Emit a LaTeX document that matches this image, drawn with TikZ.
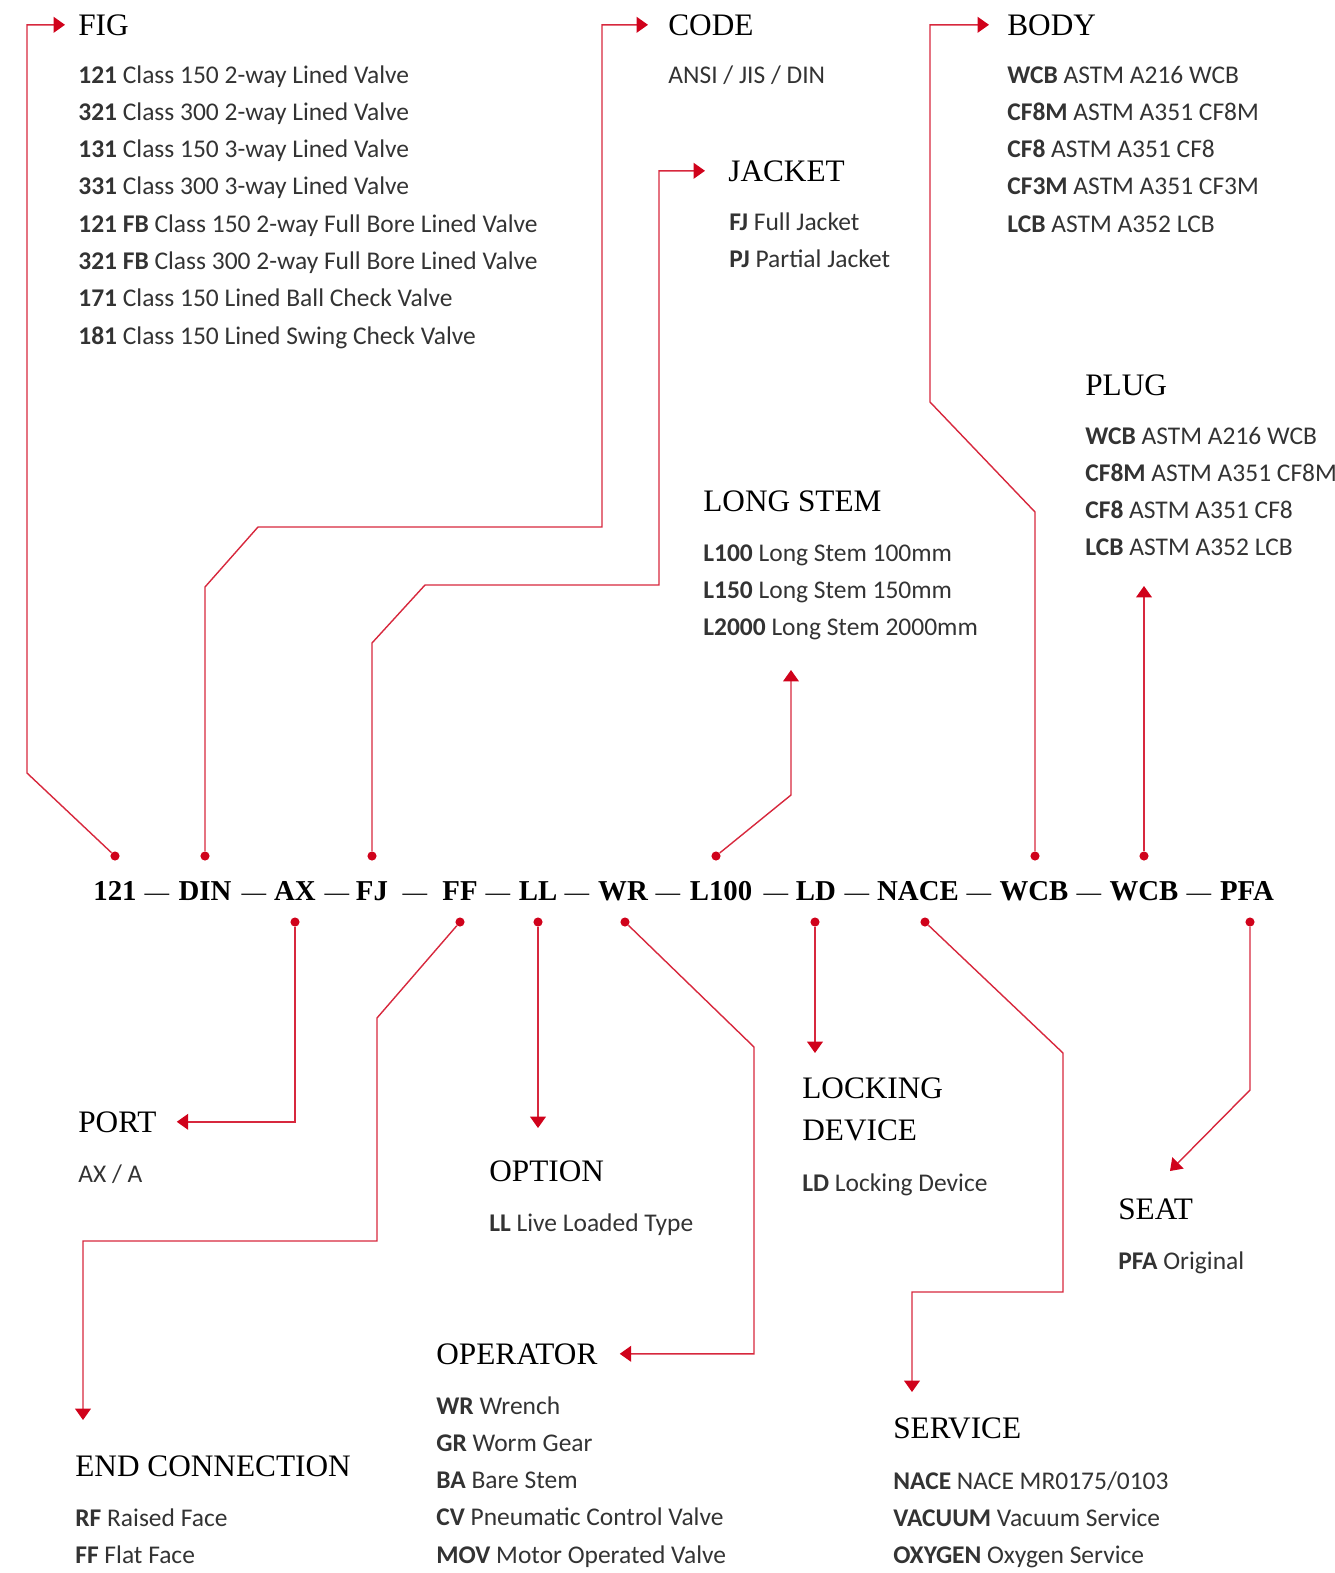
\documentclass[tikz,border=0pt]{standalone}
\usepackage{fontspec}
\usepackage{tikz}
\usetikzlibrary{arrows.meta,calc,positioning}
\newfontfamily\headfont{Liberation Serif}
\newfontfamily\bodyfont{Carlito}
\definecolor{valvered}{RGB}{208,2,27}
\definecolor{textgray}{RGB}{51,51,51}
\tikzset{
  head/.style={anchor=base west, inner sep=0pt, font=\headfont\fontsize{17.8}{23.9}\selectfont},
  entry/.style={anchor=base west, inner sep=0pt, text=textgray, font=\bodyfont\fontsize{14.5}{17}\selectfont},
  part/.style={anchor=base, inner sep=0pt, font=\headfont\bfseries\fontsize{16.4}{18}\selectfont},
  sep/.style={anchor=base, inner sep=0pt, font=\headfont\fontsize{14}{18}\selectfont},
  pin/.style={circle, fill=valvered, inner sep=0pt, minimum size=5.2pt},
  lead/.style={draw=valvered!85, line width=0.8pt, -{Triangle[length=6.5pt,width=9pt,color=valvered]}}
}

\begin{document}
\begin{tikzpicture}[x=0.02cm, y=-0.02cm]
\useasboundingbox (0,0) rectangle (1335,1573);

% ordering code
\foreach \nm/\txt/\x in {c121/121/115, cdin/DIN/205, cax/AX/295, cfj/FJ/372, cff/FF/460, cll/LL/538,
  cwr/WR/623, cl100/L100/721, cld/LD/816, cnace/NACE/918, cbody/WCB/1034, cplug/WCB/1144, cpfa/PFA/1247}
  \node[part] (\nm) at (\x,900) {\txt};
\foreach \x in {157,254,337,415,498,577,668,776,857,979,1089,1199}
  \node[sep] (sep-\x) at (\x,900) {\textemdash};

\foreach \nm/\x/\y in {p121/115/856, pdin/205/856, pax/295/922, pfj/372/856, pff/460/922, pll/538/922,
  pwr/625/922, pl100/716/856, pld/815/922, pnace/925/922, pbody/1035/856, pplug/1144/856, ppfa/1250/922}
  \node[pin] (\nm) at (\x,\y) {};

% top groups
\node[head] (fig) at (78,35) {FIG};
\foreach \abbr/\desc [count=\i from 0] in {121/Class 150 2-way Lined Valve, 321/Class 300 2-way Lined Valve,
  131/Class 150 3-way Lined Valve, 331/Class 300 3-way Lined Valve, 121 FB/Class 150 2-way Full Bore Lined Valve,
  321 FB/Class 300 2-way Full Bore Lined Valve, 171/Class 150 Lined Ball Check Valve, 181/Class 150 Lined Swing Check Valve}
  \node[entry] (fig-\i) at (78,{83+37.3*\i}) {\textbf{\abbr} \desc};

\node[head] (code) at (668,35) {CODE};
\node[entry] (code-0) at (668,83) {ANSI / JIS / DIN};

\node[head] (jacket) at (728,181) {JACKET};
\foreach \abbr/\desc [count=\i from 0] in {FJ/Full Jacket, PJ/Partial Jacket}
  \node[entry] (jacket-\i) at (729,{230+37.3*\i}) {\textbf{\abbr} \desc};

\node[head] (body) at (1007,35) {BODY};
\foreach \abbr/\desc [count=\i from 0] in {WCB/ASTM A216 WCB, CF8M/ASTM A351 CF8M, CF8/ASTM A351 CF8,
  CF3M/ASTM A351 CF3M, LCB/ASTM A352 LCB}
  \node[entry] (body-\i) at (1007,{83+37.3*\i}) {\textbf{\abbr} \desc};

\node[head] (plug) at (1085,395) {PLUG};
\foreach \abbr/\desc [count=\i from 0] in {WCB/ASTM A216 WCB, CF8M/ASTM A351 CF8M, CF8/ASTM A351 CF8, LCB/ASTM A352 LCB}
  \node[entry] (plug-\i) at (1085,{444+37.3*\i}) {\textbf{\abbr} \desc};

\node[head] (stem) at (703,511) {LONG STEM};
\foreach \abbr/\desc [count=\i from 0] in {L100/Long Stem 100mm, L150/Long Stem 150mm, L2000/Long Stem 2000mm}
  \node[entry] (stem-\i) at (703,{561+37.3*\i}) {\textbf{\abbr} \desc};

% bottom groups
\node[head] (port) at (78,1132) {PORT};
\node[entry] (port-0) at (78,1182) {AX / A};

\node[head] (option) at (489,1181) {OPTION};
\node[entry] (option-0) at (489,1231) {\textbf{LL} Live Loaded Type};

\node[head, anchor=west, align=left] (locking) at (802,1109) {LOCKING\\DEVICE};
\node[entry] (locking-0) at (802,1191) {\textbf{LD} Locking Device};

\node[head] (seat) at (1118,1219) {SEAT};
\node[entry] (seat-0) at (1118,1269) {\textbf{PFA} Original};

\node[head] (endconn) at (75,1476) {END CONNECTION};
\foreach \abbr/\desc [count=\i from 0] in {RF/Raised Face, FF/Flat Face}
  \node[entry] (endconn-\i) at (75,{1526+37.3*\i}) {\textbf{\abbr} \desc};

\node[head] (operator) at (436,1364) {OPERATOR};
\foreach \abbr/\desc [count=\i from 0] in {WR/Wrench, GR/Worm Gear, BA/Bare Stem, CV/Pneumatic Control Valve,
  MOV/Motor Operated Valve}
  \node[entry] (operator-\i) at (436,{1414+37.3*\i}) {\textbf{\abbr} \desc};

\node[head] (service) at (893,1438) {SERVICE};
\foreach \abbr/\desc [count=\i from 0] in {NACE/{NACE MR0175/0103}, VACUUM/Vacuum Service, OXYGEN/Oxygen Service}
  \node[entry] (service-\i) at (893,{1489+37.3*\i}) {\textbf{\abbr} \desc};

% arrow tips
\coordinate (stemtip) at (791,670);
\coordinate (plugtip) at (1144,586);
\coordinate (endtip) at (83,1420);
\coordinate (optiontip) at (538,1128);
\coordinate (lockingtip) at (815,1053);
\coordinate (servicetip) at (912,1392);
\coordinate (seattip) at (1170,1171);

% leaders
\draw[lead] (p121) -- (27,773) |- ($(fig.west)+(-13,0)$);
\draw[lead] (pdin) -- (205,587) -- (258,527) -- (602,527) |- ($(code.west)+(-20,0)$);
\draw[lead] (pfj) -- (372,643) -- (425,585) -- (659,585) |- ($(jacket.west)+(-23,0)$);
\draw[lead] (pbody) -- (1035,512) -- (930,402) |- ($(body.west)+(-18,0)$);
\draw[lead] (pl100) -- (791,795) -- (stemtip);
\draw[lead] (pplug) -- (plugtip);
\draw[lead] (pax) |- ($(port.east)+(20,0)$);
\draw[lead] (pff) -- (377,1018) -- (377,1241) -| (endtip);
\draw[lead] (pll) -- (optiontip);
\draw[lead] (pwr) -- (754,1047) |- ($(operator.east)+(22,0)$);
\draw[lead] (pld) -- (lockingtip);
\draw[lead] (pnace) -- (1063,1053) -- (1063,1292) -| (servicetip);
\draw[lead] (ppfa) -- (1250,1090) -- (seattip);
\end{tikzpicture}
\end{document}
